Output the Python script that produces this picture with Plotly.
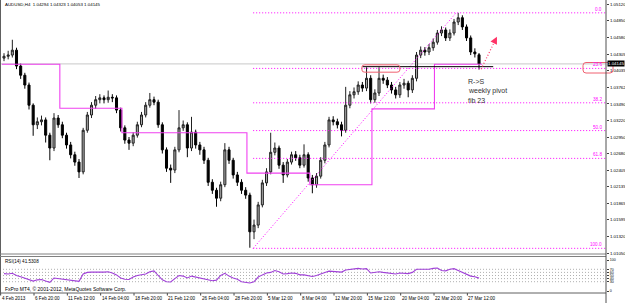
import plotly.graph_objects as go

# ---------------- data (AUDUSD H4) ----------------
opens = [1.0424, 1.0427, 1.0429, 1.0437, 1.0411, 1.0396, 1.0380, 1.0347, 1.0315, 1.0320,
         1.0323, 1.0298, 1.0277, 1.0326, 1.0315, 1.0298, 1.0282, 1.0266, 1.0254, 1.0238,
         1.0306, 1.0331, 1.0347, 1.0356, 1.0359, 1.0356, 1.0360, 1.0359, 1.0339, 1.0310,
         1.0290, 1.0285, 1.0298, 1.0315, 1.0331, 1.0347, 1.0356, 1.0352, 1.0315, 1.0274,
         1.0244, 1.0241, 1.0274, 1.0310, 1.0315, 1.0277, 1.0303, 1.0282, 1.0274, 1.0257,
         1.0221, 1.0208, 1.0195, 1.0217, 1.0274, 1.0257, 1.0233, 1.0221, 1.0208, 1.0200,
         1.0140, 1.0151, 1.0184, 1.0220, 1.0238, 1.0270, 1.0277, 1.0249, 1.0233, 1.0254,
         1.0266, 1.0261, 1.0249, 1.0266, 1.0228, 1.0217, 1.0231, 1.0257, 1.0282, 1.0323,
         1.0320, 1.0315, 1.0306, 1.0347, 1.0364, 1.0369, 1.0380, 1.0375, 1.0391, 1.0356,
         1.0367, 1.0391, 1.0388, 1.0380, 1.0372, 1.0364, 1.0380, 1.0383, 1.0372, 1.0391,
         1.0429, 1.0437, 1.0434, 1.0441, 1.0450, 1.0465, 1.0470, 1.0457, 1.0465, 1.0483,
         1.0490, 1.0475, 1.0457, 1.0434, 1.04294]
highs = [1.0432, 1.0436, 1.0454, 1.0441, 1.0415, 1.0400, 1.0384, 1.0350, 1.0327, 1.0330,
         1.0327, 1.0302, 1.0334, 1.0331, 1.0320, 1.0302, 1.0287, 1.0271, 1.0259, 1.0310,
         1.0336, 1.0352, 1.0362, 1.0365, 1.0363, 1.0371, 1.0365, 1.0363, 1.0343, 1.0314,
         1.0295, 1.0303, 1.0320, 1.0336, 1.0352, 1.0367, 1.0361, 1.0356, 1.0319, 1.0278,
         1.0250, 1.0279, 1.0339, 1.0322, 1.0319, 1.0328, 1.0307, 1.0287, 1.0279, 1.0261,
         1.0226, 1.0212, 1.0222, 1.0285, 1.0279, 1.0261, 1.0238, 1.0226, 1.0213, 1.0204,
         1.0160, 1.0189, 1.0225, 1.0244, 1.0302, 1.0286, 1.0281, 1.0254, 1.0259, 1.0271,
         1.0272, 1.0266, 1.0283, 1.0270, 1.0233, 1.0236, 1.0262, 1.0287, 1.0328, 1.0329,
         1.0325, 1.0320, 1.0377, 1.0370, 1.0376, 1.0386, 1.0385, 1.0409, 1.0396, 1.0373,
         1.0409, 1.0397, 1.0393, 1.0385, 1.0377, 1.0385, 1.0390, 1.0387, 1.0396, 1.0434,
         1.0443, 1.0442, 1.0447, 1.0456, 1.0470, 1.0476, 1.0474, 1.0471, 1.0488, 1.0498,
         1.0494, 1.0479, 1.0461, 1.0440, 1.04323]
lows = [1.0419, 1.0422, 1.0425, 1.0406, 1.0390, 1.0374, 1.0340, 1.0297, 1.0308, 1.0314,
        1.0286, 1.0257, 1.0272, 1.0310, 1.0293, 1.0276, 1.0260, 1.0248, 1.0228, 1.0234,
        1.0302, 1.0326, 1.0341, 1.0350, 1.0350, 1.0351, 1.0352, 1.0334, 1.0304, 1.0284,
        1.0274, 1.0280, 1.0294, 1.0311, 1.0327, 1.0343, 1.0347, 1.0310, 1.0268, 1.0238,
        1.0220, 1.0236, 1.0270, 1.0305, 1.0262, 1.0272, 1.0276, 1.0266, 1.0251, 1.0215,
        1.0202, 1.0181, 1.0190, 1.0213, 1.0251, 1.0227, 1.0215, 1.0202, 1.0194, 1.0114,
        1.0128, 1.0146, 1.0180, 1.0215, 1.0234, 1.0265, 1.0243, 1.0220, 1.0229, 1.0250,
        1.0256, 1.0244, 1.0245, 1.0222, 1.0203, 1.0212, 1.0227, 1.0252, 1.0278, 1.0314,
        1.0309, 1.0296, 1.0302, 1.0342, 1.0358, 1.0364, 1.0369, 1.0370, 1.0350, 1.0351,
        1.0362, 1.0382, 1.0375, 1.0366, 1.0358, 1.0359, 1.0374, 1.0360, 1.0367, 1.0386,
        1.0424, 1.0428, 1.0429, 1.0436, 1.0446, 1.0460, 1.0452, 1.0452, 1.0461, 1.0478,
        1.0470, 1.0452, 1.0429, 1.0425, 1.04053]
closes = [1.0427, 1.0429, 1.0437, 1.0411, 1.0396, 1.0380, 1.0347, 1.0315, 1.0320, 1.0323,
          1.0298, 1.0277, 1.0326, 1.0315, 1.0298, 1.0282, 1.0266, 1.0254, 1.0238, 1.0306,
          1.0331, 1.0347, 1.0356, 1.0359, 1.0356, 1.0360, 1.0359, 1.0339, 1.0310, 1.0290,
          1.0285, 1.0298, 1.0315, 1.0331, 1.0347, 1.0356, 1.0352, 1.0315, 1.0274, 1.0244,
          1.0241, 1.0274, 1.0310, 1.0315, 1.0277, 1.0303, 1.0282, 1.0274, 1.0257, 1.0221,
          1.0208, 1.0195, 1.0217, 1.0274, 1.0257, 1.0233, 1.0221, 1.0208, 1.0200, 1.0140,
          1.0151, 1.0184, 1.0220, 1.0238, 1.0270, 1.0277, 1.0249, 1.0233, 1.0254, 1.0266,
          1.0261, 1.0249, 1.0266, 1.0228, 1.0217, 1.0231, 1.0257, 1.0282, 1.0323, 1.0320,
          1.0315, 1.0306, 1.0347, 1.0364, 1.0369, 1.0380, 1.0375, 1.0391, 1.0356, 1.0367,
          1.0391, 1.0388, 1.0380, 1.0372, 1.0364, 1.0380, 1.0383, 1.0372, 1.0391, 1.0429,
          1.0437, 1.0434, 1.0441, 1.0450, 1.0465, 1.0470, 1.0457, 1.0465, 1.0483, 1.0490,
          1.0475, 1.0457, 1.0434, 1.0431, 1.04145]
rsi = [56, 55, 57, 50, 46, 42, 36, 32, 36, 37,
       32, 28, 42, 40, 37, 35, 34, 33, 31, 55,
       60, 61, 62, 61, 61, 62, 58, 52, 42, 38,
       37, 45, 50, 52, 55, 62, 65, 50, 36, 30,
       29, 40, 50, 48, 42, 48, 45, 42, 40, 36,
       33, 35, 50, 57, 48, 42, 38, 30, 28, 26,
       30, 45, 52, 58, 60, 66, 62, 55, 56, 58,
       57, 52, 52, 49, 47, 50, 56, 60, 64, 63,
       62, 61, 68, 70, 71, 73, 71, 72, 58, 60,
       62, 60, 58, 56, 55, 58, 58, 56, 60, 70,
       70, 69, 70, 73, 74, 66, 65, 70, 72, 66,
       60, 52, 48, 46, 41.53]
bars = list(range(len(closes)))

price_ticks = [1.05120, 1.04850, 1.04580, 1.04305, 1.04035, 1.03762, 1.03490, 1.03220,
               1.02950, 1.02680, 1.02405, 1.02135, 1.01865, 1.01595, 1.01320, 1.01050]
price_tick_text = ["1.05120", "1.04850", "1.04580", "1.04305", "1.04035", "1.03762", "1.03490",
                   "1.03220", "1.02950", "1.02680", "1.02405", "1.02135", "1.01865", "1.01595",
                   "1.01320", "1.01050"]
time_labels = ["4 Feb 2013", "6 Feb 20:00", "11 Feb 12:00", "14 Feb 04:00", "18 Feb 20:00",
               "21 Feb 12:00", "26 Feb 04:00", "28 Feb 20:00", "5 Mar 12:00", "8 Mar 04:00",
               "12 Mar 20:00", "15 Mar 12:00", "20 Mar 04:00", "22 Mar 20:00", "27 Mar 12:00"]
time_label_bars = [-0.8, 7.2, 15.2, 23.2, 31.2, 39.2, 47.2, 55.2, 63.2, 71.2, 79.2, 87.2,
                   95.2, 103.2, 111.2]

pivot_bars = [-0.5, 13.4, 28.3, 43.3, 58.3, 73.4, 88.3, 103.3, 114.7]
pivot_levels = [1.0414, 1.0342, 1.0302, 1.0302, 1.0236, 1.0217, 1.0341, 1.0414, 1.0414]

fib_high = 1.0498
fib_low = 1.0113
fib_low_bar = 59.8
fib_high_bar = 108.5
fib_pcts = [0.0, 23.6, 38.2, 50.0, 61.8, 100.0]
fib_names = ["0.0", "23.6", "38.2", "50.0", "61.8", "100.0"]

rsi_levels = [70, 60, 50, 40, 30]
last_price = 1.04145
sr_level = 1.0410
sr_from_bar = 86.0
sr_to_bar = 117.4

# ---------------- layout helpers ----------------
W, H = 625, 303
X_RANGE = [-0.96, 144.47]
Y_RANGE = [1.01021, 1.0519]
R_RANGE = [-6.45, 109.7]
FONT = "Liberation Sans, Arial, sans-serif"
MAG = "#ff00ff"
DOT = "1px,2px"


def py(p):
    return 1 - p / H


def px(p):
    return p / W


fig = go.Figure()

fig.add_trace(go.Candlestick(
    x=bars, open=opens, high=highs, low=lows, close=closes,
    increasing=dict(line=dict(color="#202020", width=1), fillcolor="#a8a8a8"),
    decreasing=dict(line=dict(color="#000000", width=1), fillcolor="#000000"),
    whiskerwidth=0, xaxis="x", yaxis="y", hoverinfo="skip"))

fig.add_trace(go.Scatter(
    x=pivot_bars, y=pivot_levels, mode="lines", line=dict(color="#f040f0", width=1.1, shape="hv"),
    xaxis="x", yaxis="y", hoverinfo="skip"))

fig.add_trace(go.Scatter(
    x=bars, y=rsi, mode="lines", line=dict(color="#a040d8", width=1.1),
    xaxis="x2", yaxis="y2", hoverinfo="skip"))

shapes = []
annotations = []

# current price line (light gray, full width)
shapes.append(dict(type="line", xref="x", yref="y", x0=X_RANGE[0], x1=X_RANGE[1],
                   y0=last_price, y1=last_price, line=dict(color="#c8c8c8", width=1), layer="below"))

# fibonacci retracement
span = fib_high - fib_low
for pct, name in zip(fib_pcts, fib_names):
    lvl = fib_high - pct / 100.0 * span
    shapes.append(dict(type="line", xref="x", yref="y", x0=fib_low_bar, x1=X_RANGE[1],
                       y0=lvl, y1=lvl, line=dict(color=MAG, width=1, dash=DOT)))
    annotations.append(dict(xref="paper", yref="y", x=px(604), y=lvl, text=name, showarrow=False,
                            xanchor="right", yanchor="bottom", yshift=-1,
                            font=dict(family=FONT, size=4.6, color=MAG)))
shapes.append(dict(type="line", xref="x", yref="y", x0=fib_low_bar, x1=fib_high_bar,
                   y0=fib_low, y1=fib_high, line=dict(color=MAG, width=1, dash=DOT)))

# support/resistance line
shapes.append(dict(type="line", xref="x", yref="y", x0=sr_from_bar, x1=sr_to_bar,
                   y0=sr_level, y1=sr_level, line=dict(color="#000000", width=1)))


# red rounded boxes
def rounded(x0, x1, y0, y1, rx, ry):
    return (f"M{x0+rx},{y0} L{x1-rx},{y0} Q{x1},{y0} {x1},{y0+ry} L{x1},{y1-ry} "
            f"Q{x1},{y1} {x1-rx},{y1} L{x0+rx},{y1} Q{x0},{y1} {x0},{y1-ry} "
            f"L{x0},{y0+ry} Q{x0},{y0} {x0+rx},{y0} Z")


shapes.append(dict(type="path", xref="x", yref="y",
                   path=rounded(85.9, 95.0, 1.0401, 1.0413, 0.7, 0.00035),
                   line=dict(color="#f06070", width=1)))
shapes.append(dict(type="path", xref="paper", yref="paper",
                   path=rounded(px(583), px(613), py(73), py(62.5), 3 / W, 3 / H),
                   line=dict(color="#f06070", width=1)))

# arrow (dotted) up from the retest
shapes.append(dict(type="line", xref="x", yref="y", x0=114.5, x1=118.3, y0=1.0406, y1=1.0459,
                   line=dict(color="#ff3366", width=1.2, dash=DOT)))
annotations.append(dict(xref="x", yref="y", x=118.3, y=1.0459, ax=-3.6, ay=7.2, text="",
                        showarrow=True, arrowhead=2, arrowsize=1.2, arrowwidth=1.2,
                        arrowcolor="#ff3366"))

# comment text
for txt, yy in [("R->S", 81), ("weekly pivot", 91), ("fib 23", 101)]:
    annotations.append(dict(xref="paper", yref="paper", x=px(466), y=py(yy), text=txt,
                            showarrow=False, xanchor="left", yanchor="middle",
                            font=dict(family=FONT, size=7, color="#333333")))

# header texts
annotations.append(dict(xref="paper", yref="paper", x=px(3), y=py(5),
                        text="AUDUSD,H4  1.04294 1.04323 1.04053 1.04145", showarrow=False,
                        xanchor="left", yanchor="middle", font=dict(family=FONT, size=4.4, color="#000")))
annotations.append(dict(xref="paper", yref="paper", x=px(3), y=py(261),
                        text="RSI(14) 41.5308", showarrow=False,
                        xanchor="left", yanchor="middle", font=dict(family=FONT, size=4.6, color="#000")))
annotations.append(dict(xref="paper", yref="paper", x=px(3), y=py(289),
                        text="FxPro MT4, © 2001-2012, MetaQuotes Software Corp.", showarrow=False,
                        xanchor="left", yanchor="middle", font=dict(family=FONT, size=5, color="#000")))

# current price tag on axis
annotations.append(dict(xref="paper", yref="y", x=px(607), y=last_price, text="1.04145",
                        showarrow=False, xanchor="left", yanchor="middle", bgcolor="#000000",
                        borderpad=0, font=dict(family=FONT, size=4.4, color="#ffffff")))

# time labels
for lab, b in zip(time_labels, time_label_bars):
    annotations.append(dict(xref="x", yref="paper", x=b, y=py(298.5), text=lab, showarrow=False,
                            xanchor="left", yanchor="middle", xshift=-1,
                            font=dict(family=FONT, size=4.6, color="#000")))
    shapes.append(dict(type="line", xref="x", yref="paper", x0=b, x1=b, y0=py(293), y1=py(295.5),
                       line=dict(color="#404040", width=1)))

# RSI levels
for lv in rsi_levels:
    shapes.append(dict(type="line", xref="x2", yref="y2", x0=X_RANGE[0], x1=X_RANGE[1], y0=lv, y1=lv,
                       line=dict(color="#b0b0b0", width=1, dash=DOT), layer="below"))

# frame lines
frame = [
    (0.5, 0, 0.5, 293, "#606060"),
    (0, 254, 606, 254, "#808080"),
    (0, 256.5, 606, 256.5, "#808080"),
    (0, 293, 606, 293, "#606060"),
    (606, 0, 606, 303, "#505050"),
]
for x0, y0, x1, y1, c in frame:
    shapes.append(dict(type="line", xref="paper", yref="paper", x0=px(x0), x1=px(x1),
                       y0=py(y0), y1=py(y1), line=dict(color=c, width=1)))

fig.update_layout(
    width=W, height=H, margin=dict(l=0, r=0, t=0, b=0),
    paper_bgcolor="#ffffff", plot_bgcolor="#ffffff", showlegend=False,
    font=dict(family=FONT, size=5, color="#000"),
    xaxis=dict(domain=[0, 606 / W], range=X_RANGE, showticklabels=False, showgrid=False,
               zeroline=False, rangeslider=dict(visible=False), anchor="y"),
    xaxis2=dict(domain=[0, 606 / W], range=X_RANGE, showticklabels=False, showgrid=False,
                zeroline=False, matches="x", anchor="y2"),
    yaxis=dict(domain=[1 - 255 / H, 1], range=Y_RANGE, side="right", anchor="x",
               tickvals=price_ticks, ticktext=price_tick_text, ticks="outside", ticklen=2,
               tickcolor="#404040", tickfont=dict(family=FONT, size=4.4, color="#000"),
               showgrid=False, zeroline=False),
    yaxis2=dict(domain=[1 - 293 / H, 1 - 257 / H], range=R_RANGE, side="right", anchor="x2",
                tickvals=[100] + rsi_levels + [0], ticks="outside", ticklen=2, tickcolor="#404040",
                tickfont=dict(family=FONT, size=3.6, color="#000"), showgrid=False, zeroline=False),
    shapes=shapes, annotations=annotations,
)

fig.write_html("out.html")
